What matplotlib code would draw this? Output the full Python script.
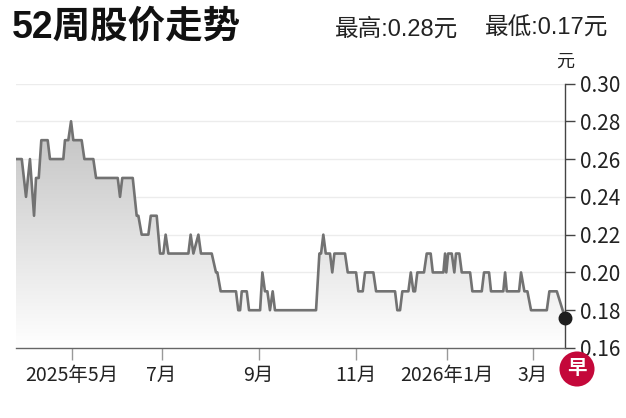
import numpy as np
import matplotlib
matplotlib.use("Agg")
import matplotlib.pyplot as plt
from matplotlib.colors import LinearSegmentedColormap
from matplotlib.patches import Polygon

# ---- data ----
# days since the first point of the 52-week window, and price (元)
days = [0, 3.8, 6.6, 9.2, 11.9, 13.2, 15.0, 16.7, 20.9, 22.4, 31.2, 32.3, 34.5,
        36.3, 37.8, 43.3, 45.1, 51.0, 52.8, 67.1, 68.6, 70.1, 77.0, 79.6, 80.7,
        82.9, 87.3, 88.9, 92.8, 95.0, 97.2, 98.7, 100.5, 113.7, 115.2, 117.0,
        120.3, 122.0, 129.1, 131.9, 132.8, 135.0, 145.1, 146.6, 147.8, 148.9,
        152.2, 153.7, 161.0, 162.5, 164.2, 165.8, 167.5, 169.3, 170.8, 197.9,
        200.1, 201.2, 202.7, 204.3, 207.1, 208.6, 210.0, 217.0, 218.8, 224.3,
        225.8, 228.7, 230.2, 235.7, 237.5, 250.0, 251.5, 253.3, 254.8, 258.8,
        260.4, 262.1, 263.2, 264.7, 269.1, 270.9, 273.5, 274.9, 281.9, 283.0,
        283.8, 285.0, 287.4, 289.1, 290.2, 292.4, 294.0, 299.5, 301.0, 307.2,
        308.7, 312.0, 313.3, 321.4, 322.6, 323.7, 331.8, 333.1, 335.3, 337.3,
        339.7, 350.1, 351.8, 356.7, 362.1]
price = [0.26, 0.26, 0.24, 0.26, 0.23, 0.25, 0.25, 0.27, 0.27, 0.26, 0.26, 0.27, 0.27,
         0.28, 0.27, 0.27, 0.26, 0.26, 0.25, 0.25, 0.24, 0.25, 0.25, 0.23, 0.23,
         0.22, 0.22, 0.23, 0.23, 0.21, 0.21, 0.22, 0.21, 0.21, 0.22, 0.21,
         0.22, 0.21, 0.21, 0.20, 0.20, 0.19, 0.19, 0.18, 0.18, 0.19,
         0.19, 0.18, 0.18, 0.20, 0.19, 0.19, 0.18, 0.19, 0.18, 0.18,
         0.21, 0.21, 0.22, 0.21, 0.21, 0.20, 0.21, 0.21, 0.20, 0.20,
         0.19, 0.19, 0.20, 0.20, 0.19, 0.19, 0.18, 0.18, 0.19, 0.19,
         0.20, 0.19, 0.19, 0.20, 0.20, 0.21, 0.21, 0.20, 0.20, 0.21,
         0.20, 0.21, 0.21, 0.20, 0.21, 0.21, 0.20, 0.20, 0.19, 0.19,
         0.20, 0.20, 0.19, 0.19, 0.20, 0.19, 0.19, 0.20, 0.19, 0.19,
         0.18, 0.18, 0.19, 0.19, 0.176]

tick_days = [37, 96, 160, 224, 284, 341]
tick_labels = ["2025年5月", "7月", "9月", "11月", "2026年1月", "3月"]
y_ticks = [0.16, 0.18, 0.20, 0.22, 0.24, 0.26, 0.28, 0.30]

high_price = 0.28
low_price = 0.17

# fonts: latin first, CJK as fallback
REG = ["Liberation Sans", "Noto Sans CJK SC"]
NARROW = ["Liberation Sans Narrow", "Noto Sans CJK SC"]

W, H = 626, 418
fig = plt.figure(figsize=(W / 100, H / 100), dpi=100)
ax = fig.add_axes([16 / W, 1 - 348 / H, 549 / W, (348 - 83.5) / H])

ax.set_xlim(days[0], days[-1])
ax.set_ylim(0.16, 0.30)

# gradient fill under the line
cmap = LinearSegmentedColormap.from_list("fade", ["#ffffff", "#c0c0c0"])
grad = np.linspace(0, 1, 256).reshape(-1, 1)
im = ax.imshow(grad, extent=[days[0], days[-1], 0.16, 0.285], origin="lower",
               cmap=cmap, aspect="auto", zorder=1)
verts = [(days[0], 0.16)] + list(zip(days, price)) + [(days[-1], 0.16)]
clip = Polygon(verts, closed=True, fc="none", ec="none", transform=ax.transData)
ax.add_patch(clip)
im.set_clip_path(clip)

# price line + last point
ax.plot(days, price, color="#727272", lw=1.9, zorder=3)
ax.plot(days[-1], price[-1], "o", color="#1e1e1e", ms=9, zorder=5, clip_on=False)

# grid
ax.set_yticks(y_ticks)
ax.yaxis.grid(True, color="#ececec", lw=1)
ax.set_axisbelow(True)

# spines
for s in ["left", "top"]:
    ax.spines[s].set_visible(False)
ax.spines["right"].set_color("#444444")
ax.spines["right"].set_linewidth(1)
ax.spines["bottom"].set_color("#666666")
ax.spines["bottom"].set_linewidth(1)

# y axis on the right
ax.yaxis.tick_right()
ax.set_yticklabels([f"{v:.2f}" for v in y_ticks], family=NARROW, fontsize=15, color="#222222")
ax.tick_params(axis="y", direction="out", length=7.5, width=1, color="#444444", pad=3)

# month ticks
ax.set_xticks(tick_days)
ax.set_xticklabels(tick_labels, family=NARROW, fontsize=14, color="#222222")
ax.tick_params(axis="x", direction="out", length=8.5, width=1, color="#999999", pad=4)

# header texts
fig.text(12 / W, 1 - 28 / H, "52周股价走势", family=REG, fontsize=27,
         fontweight="black", color="#111111", va="center", ha="left")
fig.text(335 / W, 1 - 29 / H, f"最高:{high_price:.2f}元", family=REG, fontsize=17,
         color="#222222", va="center", ha="left")
fig.text(608 / W, 1 - 29 / H, f"最低:{low_price:.2f}元", family=REG, fontsize=17,
         color="#222222", va="center", ha="right")
fig.text(565 / W, 1 - 62 / H, "元", family=REG, fontsize=13, color="#222222",
         va="center", ha="center")

# logo
fig.text(577 / W, 1 - 369 / H, "早", family=REG, fontsize=14, fontweight="bold",
         color="white", va="center", ha="center",
         bbox=dict(boxstyle="circle,pad=0.4", fc="#c4083a", ec="none"))

fig.savefig("out.png", dpi=100)
